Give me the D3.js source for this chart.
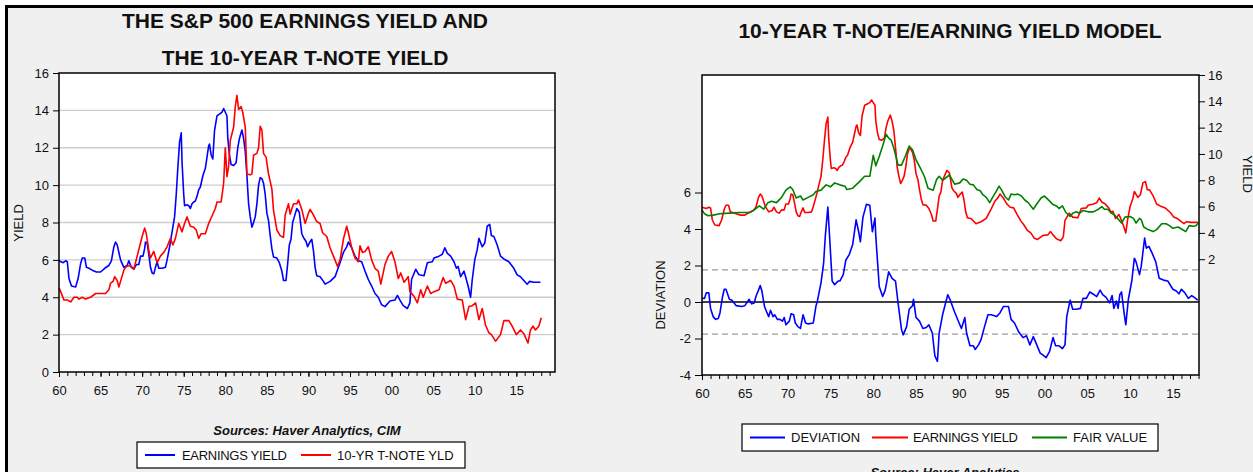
<!DOCTYPE html>
<html>
<head>
<meta charset="utf-8">
<script src="https://cdn.jsdelivr.net/npm/d3@7"></script>
<style>
  body { margin: 0; background: #fff; }
  svg { display: block; font-family: "Liberation Sans", Arial, sans-serif; }
</style>
</head>
<body>
<svg id="chart" width="1253" height="472"></svg>
<script>
'use strict'

////////////////////////////////////
//////////// data //////////////////
////////////////////////////////////

// S&P 500 earnings yield (blue on the left, red on the right)
const earningsYield = [[1960.0,5.95],[1960.5,5.85],[1960.8,5.95],[1961.0,5.9],[1961.2,5.0],[1961.5,4.6],[1962.0,4.55],[1962.3,5.0],[1962.6,5.8],[1962.8,6.1],[1963.1,6.1],[1963.3,5.6],[1963.6,5.55],[1964.0,5.45],[1964.5,5.35],[1965.0,5.35],[1965.5,5.55],[1966.0,5.7],[1966.3,5.95],[1966.6,6.7],[1966.8,6.95],[1967.0,6.8],[1967.4,6.0],[1967.8,5.6],[1968.2,5.7],[1968.4,5.95],[1968.7,5.6],[1969.0,5.5],[1969.3,5.75],[1969.6,5.75],[1969.8,6.2],[1970.1,6.2],[1970.3,6.6],[1970.4,6.95],[1970.6,6.9],[1970.8,6.3],[1971.0,5.6],[1971.2,5.3],[1971.4,5.25],[1971.6,5.6],[1971.8,5.9],[1972.0,5.55],[1972.4,5.55],[1972.8,5.6],[1973.0,6.0],[1973.3,6.7],[1973.6,7.5],[1973.9,8.3],[1974.1,9.5],[1974.3,11.0],[1974.5,12.3],[1974.7,12.8],[1974.8,11.2],[1975.0,9.5],[1975.1,8.9],[1975.4,8.95],[1975.6,8.9],[1975.8,8.75],[1976.0,9.0],[1976.2,9.1],[1976.4,9.15],[1976.6,9.4],[1976.8,9.75],[1977.0,9.9],[1977.3,10.5],[1977.6,10.9],[1977.8,11.5],[1978.0,12.1],[1978.1,12.2],[1978.3,11.6],[1978.5,11.4],[1978.7,12.9],[1979.0,13.7],[1979.3,13.8],[1979.6,13.9],[1979.8,14.1],[1980.0,13.9],[1980.2,13.7],[1980.3,12.5],[1980.5,11.6],[1980.7,11.1],[1981.0,11.05],[1981.3,11.2],[1981.5,12.0],[1981.7,12.5],[1981.9,12.8],[1982.0,12.95],[1982.2,12.5],[1982.4,11.8],[1982.6,10.5],[1982.8,9.0],[1983.0,8.3],[1983.2,7.75],[1983.4,8.0],[1983.6,8.3],[1983.8,9.0],[1984.0,10.0],[1984.2,10.4],[1984.4,10.35],[1984.6,10.1],[1984.8,9.5],[1985.0,8.5],[1985.2,8.1],[1985.4,7.3],[1985.6,6.6],[1985.8,6.15],[1986.2,6.1],[1986.5,5.85],[1986.8,5.4],[1987.0,4.9],[1987.3,4.9],[1987.5,5.8],[1987.7,6.8],[1987.9,7.1],[1988.1,8.0],[1988.3,8.3],[1988.6,8.75],[1988.9,8.55],[1989.2,7.4],[1989.4,7.2],[1989.7,7.0],[1989.9,6.7],[1990.1,6.9],[1990.4,7.1],[1990.6,6.5],[1990.8,5.6],[1991.0,5.15],[1991.4,5.1],[1991.8,4.85],[1992.0,4.7],[1992.6,4.85],[1993.2,5.1],[1993.8,5.85],[1994.2,6.4],[1994.6,6.7],[1994.8,6.95],[1995.2,6.65],[1995.6,6.2],[1996.0,5.95],[1996.4,5.9],[1996.8,5.4],[1997.2,4.95],[1997.6,4.6],[1998.0,4.2],[1998.4,4.0],[1998.8,3.6],[1999.2,3.5],[1999.8,3.8],[2000.4,3.85],[2000.7,4.1],[2001.0,3.85],[2001.4,3.55],[2001.9,3.4],[2002.2,3.7],[2002.4,4.95],[2002.9,5.5],[2003.3,5.2],[2003.9,5.15],[2004.3,5.85],[2004.9,5.9],[2005.1,6.1],[2005.7,6.2],[2006.1,6.3],[2006.4,6.65],[2006.7,6.35],[2007.1,6.2],[2007.5,5.9],[2007.8,5.55],[2008.0,5.65],[2008.3,5.1],[2008.7,5.4],[2008.9,5.1],[2009.2,4.6],[2009.5,4.0],[2009.7,4.95],[2010.0,6.0],[2010.3,6.55],[2010.5,7.15],[2010.9,6.7],[2011.2,6.9],[2011.5,7.8],[2011.8,7.9],[2012.0,7.3],[2012.3,7.25],[2012.7,6.8],[2013.1,6.2],[2013.5,6.05],[2014.1,5.9],[2014.7,5.55],[2015.1,5.2],[2015.5,5.1],[2015.9,4.9],[2016.3,4.7],[2016.6,4.85],[2017.1,4.8],[2017.9,4.8]]

// 10-year T-note yield
const tnoteYield = [[1960.0,4.5],[1960.2,4.3],[1960.6,3.85],[1961.0,3.85],[1961.4,3.75],[1961.8,4.0],[1962.2,4.0],[1962.4,3.9],[1962.8,4.0],[1963.2,3.9],[1963.8,4.0],[1964.4,4.2],[1965.0,4.2],[1965.6,4.2],[1966.0,4.4],[1966.2,4.75],[1966.5,4.85],[1966.7,5.1],[1967.0,4.9],[1967.2,4.55],[1967.4,4.85],[1967.8,5.45],[1968.1,5.65],[1968.6,5.7],[1969.0,5.5],[1969.4,6.2],[1969.8,6.9],[1970.0,7.25],[1970.3,7.7],[1970.5,7.4],[1970.8,6.5],[1971.0,6.1],[1971.4,6.45],[1971.8,5.85],[1972.2,6.2],[1972.6,6.4],[1973.0,6.7],[1973.4,7.15],[1973.7,6.8],[1974.0,7.15],[1974.4,7.95],[1974.8,7.5],[1975.1,7.95],[1975.4,8.3],[1975.8,7.8],[1976.2,7.75],[1976.5,7.6],[1976.8,7.15],[1977.1,7.4],[1977.6,7.4],[1978.0,7.95],[1978.4,8.35],[1978.8,8.75],[1979.0,9.1],[1979.5,9.1],[1979.8,10.1],[1980.0,12.0],[1980.2,10.45],[1980.4,11.0],[1980.6,12.4],[1981.0,13.1],[1981.2,14.2],[1981.4,14.8],[1981.6,14.05],[1981.9,14.2],[1982.1,13.9],[1982.4,13.1],[1982.6,10.6],[1983.0,10.55],[1983.2,10.6],[1983.4,11.6],[1983.8,11.7],[1984.0,12.0],[1984.2,13.15],[1984.4,12.95],[1984.6,11.7],[1984.9,11.5],[1985.2,10.6],[1985.6,9.8],[1985.8,8.65],[1986.2,7.6],[1986.6,7.3],[1987.0,7.2],[1987.2,8.4],[1987.6,9.0],[1987.8,8.45],[1988.2,9.0],[1988.6,9.0],[1988.8,9.2],[1989.2,8.7],[1989.6,7.95],[1990.0,8.5],[1990.2,8.7],[1990.6,8.4],[1991.0,8.05],[1991.4,7.95],[1991.7,7.45],[1992.2,7.25],[1992.6,6.65],[1993.0,6.2],[1993.5,5.65],[1993.8,6.0],[1994.2,7.1],[1994.6,7.8],[1994.8,7.45],[1995.2,6.65],[1995.6,6.1],[1996.0,5.9],[1996.2,6.75],[1996.5,6.4],[1996.8,6.45],[1997.2,6.7],[1997.6,6.0],[1998.0,5.55],[1998.4,5.4],[1998.7,4.7],[1999.2,5.75],[1999.6,6.2],[2000.0,6.45],[2000.4,5.9],[2000.8,5.0],[2001.1,5.3],[2001.5,4.8],[2002.0,5.1],[2002.2,4.3],[2002.7,4.05],[2003.1,3.7],[2003.5,4.4],[2003.8,4.0],[2004.3,4.6],[2004.7,4.2],[2005.1,4.3],[2005.7,4.4],[2006.2,5.05],[2006.5,4.75],[2007.1,4.9],[2007.5,4.6],[2007.9,3.9],[2008.5,3.85],[2008.9,2.8],[2009.3,3.5],[2009.7,3.55],[2010.1,3.7],[2010.5,2.8],[2010.9,3.4],[2011.3,2.5],[2011.7,2.1],[2012.0,2.0],[2012.5,1.65],[2013.1,2.0],[2013.5,2.75],[2014.1,2.75],[2014.5,2.45],[2015.0,2.0],[2015.5,2.25],[2015.9,2.05],[2016.4,1.55],[2016.7,2.25],[2017.0,2.45],[2017.3,2.25],[2017.7,2.45],[2018.0,2.9]]

// model fair value (right axis)
const fairValue = [[1960.0,5.75],[1960.3,5.45],[1960.7,5.3],[1961.3,5.35],[1962.1,5.45],[1963.2,5.5],[1964.4,5.55],[1965.6,5.55],[1966.1,5.75],[1966.7,6.05],[1967.2,5.8],[1967.7,6.3],[1968.1,6.4],[1968.7,6.3],[1969.3,6.7],[1969.8,7.25],[1970.3,7.5],[1970.6,7.3],[1971.0,6.65],[1971.5,6.8],[1971.8,6.5],[1972.4,6.7],[1973.0,6.9],[1973.3,7.15],[1973.9,7.25],[1974.5,7.65],[1975.0,7.5],[1975.5,7.8],[1976.1,7.65],[1976.7,7.55],[1976.9,7.3],[1977.6,7.4],[1978.4,7.9],[1979.0,8.3],[1979.6,8.3],[1980.0,9.9],[1980.3,9.1],[1980.7,9.8],[1981.1,10.6],[1981.5,11.5],[1981.8,11.2],[1982.1,11.05],[1982.4,10.45],[1982.9,9.15],[1983.3,9.15],[1983.7,9.75],[1984.2,10.6],[1984.6,10.3],[1985.0,9.55],[1985.6,8.8],[1986.0,8.25],[1986.4,7.4],[1987.0,7.25],[1987.4,8.05],[1987.7,8.3],[1988.1,8.0],[1988.9,8.4],[1989.5,7.7],[1990.1,7.8],[1990.5,8.1],[1990.9,8.0],[1991.3,7.7],[1991.7,7.65],[1992.1,7.3],[1992.5,7.2],[1992.8,6.9],[1993.2,6.7],[1993.6,6.3],[1994.0,6.75],[1994.4,7.2],[1994.7,7.55],[1995.0,7.25],[1995.4,6.75],[1995.8,6.5],[1996.1,6.95],[1996.5,6.9],[1996.9,6.95],[1997.3,6.8],[1997.7,6.5],[1998.1,6.3],[1998.7,5.8],[1999.1,6.2],[1999.6,6.65],[2000.0,6.8],[2000.4,6.55],[2001.0,6.15],[2001.4,6.05],[2001.7,5.85],[2002.1,6.05],[2002.5,5.55],[2003.0,5.25],[2003.3,5.5],[2003.7,5.6],[2004.1,5.5],[2004.5,5.7],[2005.1,5.6],[2005.7,5.6],[2006.3,5.8],[2006.7,6.0],[2007.0,5.8],[2007.4,5.8],[2007.8,5.5],[2008.2,5.35],[2008.6,5.05],[2009.0,4.75],[2009.4,5.2],[2010.0,5.25],[2010.4,5.1],[2010.7,4.75],[2011.1,5.1],[2011.3,5.0],[2011.6,4.45],[2012.1,4.25],[2012.7,4.1],[2013.1,4.25],[2013.7,4.7],[2014.2,4.7],[2014.6,4.55],[2015.0,4.35],[2015.6,4.45],[2016.0,4.3],[2016.5,4.1],[2016.9,4.55],[2017.4,4.5],[2017.7,4.55],[2018.0,4.8]]

// deviation from fair value (left axis)
const deviation = [[1960.0,0.2],[1960.3,0.2],[1960.5,0.5],[1960.8,0.5],[1961.0,-0.35],[1961.3,-0.8],[1961.6,-0.95],[1961.9,-0.9],[1962.1,-0.6],[1962.4,0.3],[1962.6,0.7],[1962.8,0.7],[1963.2,0.15],[1963.5,0.1],[1964.0,-0.2],[1964.6,-0.25],[1965.0,-0.2],[1965.3,0.0],[1965.5,0.15],[1965.8,-0.1],[1966.1,-0.05],[1966.3,0.3],[1966.6,0.65],[1966.8,0.9],[1967.0,0.6],[1967.3,-0.25],[1967.6,-0.6],[1967.8,-0.8],[1968.0,-0.45],[1968.3,-0.8],[1968.5,-0.7],[1968.8,-0.95],[1969.1,-0.95],[1969.4,-1.05],[1969.6,-0.85],[1969.8,-1.25],[1970.2,-1.05],[1970.4,-0.65],[1970.7,-0.7],[1970.9,-1.15],[1971.2,-1.35],[1971.5,-1.45],[1971.8,-0.7],[1972.1,-1.15],[1972.4,-1.2],[1973.0,-1.15],[1973.3,-0.25],[1973.5,0.1],[1973.9,1.05],[1974.2,2.1],[1974.4,3.6],[1974.7,5.2],[1974.9,3.6],[1975.2,1.15],[1975.5,0.95],[1975.9,1.15],[1976.1,1.15],[1976.5,1.5],[1976.8,2.3],[1977.2,2.6],[1977.6,3.15],[1978.0,4.5],[1978.3,3.85],[1978.5,3.3],[1978.8,4.65],[1979.2,5.35],[1979.6,5.3],[1979.9,3.85],[1980.2,4.6],[1980.3,3.6],[1980.7,0.85],[1981.1,0.3],[1981.4,0.65],[1981.8,1.65],[1982.2,1.3],[1982.6,1.15],[1982.9,-0.05],[1983.3,-1.5],[1983.5,-1.8],[1983.9,-1.35],[1984.2,-0.4],[1984.6,-0.2],[1984.7,0.15],[1985.0,-0.85],[1985.4,-1.05],[1985.8,-1.45],[1986.2,-1.4],[1986.5,-1.25],[1986.9,-1.7],[1987.2,-2.95],[1987.5,-3.25],[1987.7,-1.7],[1988.1,-0.7],[1988.4,-0.15],[1988.7,0.4],[1989.0,0.1],[1989.5,-0.55],[1989.9,-1.0],[1990.3,-1.45],[1990.7,-0.85],[1990.9,-1.7],[1991.3,-2.4],[1991.7,-2.4],[1991.9,-2.6],[1992.3,-2.35],[1992.6,-2.05],[1993.0,-1.35],[1993.4,-0.7],[1993.8,-0.7],[1994.4,-0.8],[1994.8,-0.6],[1995.2,-0.25],[1995.8,-0.25],[1996.1,-0.95],[1996.5,-1.15],[1997.0,-1.65],[1997.5,-1.95],[1997.9,-1.85],[1998.3,-2.35],[1998.7,-1.9],[1999.1,-2.35],[1999.5,-2.8],[1999.8,-2.9],[2000.2,-3.05],[2000.6,-2.7],[2001.0,-1.95],[2001.3,-2.4],[2001.7,-2.4],[2002.1,-2.55],[2002.4,-2.35],[2002.6,-0.8],[2003.0,0.1],[2003.3,-0.4],[2003.7,-0.4],[2004.2,-0.35],[2004.5,0.2],[2004.9,0.2],[2005.3,0.55],[2005.8,0.4],[2006.1,0.3],[2006.5,0.65],[2006.8,0.4],[2007.2,0.25],[2007.6,-0.05],[2007.9,0.35],[2008.1,-0.35],[2008.4,0.05],[2008.6,-0.35],[2008.8,0.4],[2009.0,0.55],[2009.3,-0.6],[2009.5,-1.25],[2009.8,0.15],[2010.2,1.15],[2010.5,2.4],[2010.7,2.2],[2011.1,1.5],[2011.3,1.95],[2011.7,3.5],[2011.9,2.95],[2012.2,3.05],[2012.6,2.65],[2013.0,2.2],[2013.4,1.3],[2013.9,1.2],[2014.4,1.15],[2015.0,0.7],[2015.4,0.6],[2015.7,0.45],[2016.0,0.7],[2016.4,0.5],[2016.8,0.2],[2017.2,0.35],[2017.5,0.25],[2017.9,0.1]]

// +/- one standard deviation bands on the deviation axis
const devBands = [1.76, -1.76]

// ticks
const xTickYears = [1960, 1965, 1970, 1975, 1980, 1985, 1990, 1995, 2000, 2005, 2010, 2015]
const xTickLabels = ['60', '65', '70', '75', '80', '85', '90', '95', '00', '05', '10', '15']
const yTicksLeft = [0, 2, 4, 6, 8, 10, 12, 14, 16]
const devTicks = [-4, -2, 0, 2, 4, 6]
const yieldTicks = [2, 4, 6, 8, 10, 12, 14, 16]

const BLUE = '#0000ff', RED = '#ff0000', GREEN = '#008000'

////////////////////////////////////
//////////// frame /////////////////
////////////////////////////////////

const svg = d3.select('#chart')

svg.append('rect').attr('x', 7).attr('y', 8).attr('width', 1246).attr('height', 464).attr('fill', '#f0f0f0')
svg.append('rect').attr('x', 5).attr('y', 5).attr('width', 1248).attr('height', 3).attr('fill', '#000')
svg.append('rect').attr('x', 5).attr('y', 5).attr('width', 3).attr('height', 467).attr('fill', '#000')

// plain hyphen for negatives, like the original
const plain = d => String(d)

function styleAxis(g) {
    g.select('.domain').remove()
    g.selectAll('line').attr('stroke', '#000')
    g.selectAll('text').attr('font-size', '13px').attr('fill', '#111')
        .attr('font-family', '"Liberation Sans", Arial, sans-serif')
}

function xAxes(x, top, bottom, lastYear) {
    // yearly minor ticks
    svg.append('g')
        .attr('transform', `translate(0,${bottom})`)
        .call(d3.axisBottom(x).tickValues(d3.range(1960, lastYear + 1)).tickSize(4).tickFormat(''))
        .call(styleAxis)
    svg.append('g')
        .attr('transform', `translate(0,${bottom})`)
        .call(d3.axisBottom(x).tickValues(xTickYears).tickSize(5).tickPadding(9)
            .tickFormat((d, i) => xTickLabels[i]))
        .call(styleAxis)
}

const lineGen = (x, y) => d3.line().x(d => x(d[0])).y(d => y(d[1]))

function drawLine(data, x, y, color) {
    svg.append('path')
        .datum(data)
        .attr('fill', 'none')
        .attr('stroke', color)
        .attr('stroke-width', 1.6)
        .attr('stroke-linejoin', 'round')
        .attr('d', lineGen(x, y))
}

function legend(box, items) {
    svg.append('rect')
        .attr('x', box.x).attr('y', box.y).attr('width', box.w).attr('height', box.h)
        .attr('fill', '#fff').attr('stroke', '#000').attr('stroke-width', 1.2)
    const cy = box.y + box.h / 2
    items.forEach(it => {
        svg.append('line')
            .attr('x1', it.x1).attr('x2', it.x2).attr('y1', cy).attr('y2', cy)
            .attr('stroke', it.color).attr('stroke-width', 2)
        svg.append('text')
            .attr('x', it.tx).attr('y', cy + 4.6)
            .attr('font-size', '13px').attr('fill', '#111')
            .attr('letter-spacing', it.ls || 0)
            .text(it.label)
    })
}

////////////////////////////////////
//////////// left chart ////////////
////////////////////////////////////

const L = { left: 59, right: 555, top: 73, bottom: 372 }

const xL = d3.scaleLinear().domain([1960, 2019.65]).range([L.left, L.right])
const yL = d3.scaleLinear().domain([0, 16]).range([L.bottom, L.top])

svg.append('rect')
    .attr('x', L.left).attr('y', L.top)
    .attr('width', L.right - L.left).attr('height', L.bottom - L.top)
    .attr('fill', '#fff')

svg.append('g')
    .selectAll('line')
    .data(yTicksLeft.filter(v => v > 0 && v < 16))
    .join('line')
    .attr('x1', L.left).attr('x2', L.right)
    .attr('y1', d => yL(d)).attr('y2', d => yL(d))
    .attr('stroke', '#cdcdcd').attr('stroke-width', 1.3)

drawLine(earningsYield, xL, yL, BLUE)
drawLine(tnoteYield, xL, yL, RED)

svg.append('rect')
    .attr('x', L.left).attr('y', L.top)
    .attr('width', L.right - L.left).attr('height', L.bottom - L.top)
    .attr('fill', 'none').attr('stroke', '#000').attr('stroke-width', 1.5)

svg.append('g')
    .attr('transform', `translate(${L.left},0)`)
    .call(d3.axisLeft(yL).tickValues(yTicksLeft).tickSize(6).tickPadding(4).tickFormat(plain))
    .call(styleAxis)

xAxes(xL, L.top, L.bottom, 2019)

svg.append('text')
    .attr('transform', 'translate(23,223) rotate(-90)')
    .attr('text-anchor', 'middle').attr('font-size', '13px').attr('fill', '#111')
    .text('YIELD')

svg.append('text')
    .attr('x', 305).attr('y', 28)
    .attr('text-anchor', 'middle').attr('font-size', '21px').attr('font-weight', 'bold').attr('fill', '#111')
    .text('THE S&P 500 EARNINGS YIELD AND')
svg.append('text')
    .attr('x', 305).attr('y', 65)
    .attr('text-anchor', 'middle').attr('font-size', '21px').attr('font-weight', 'bold').attr('fill', '#111')
    .text('THE 10-YEAR T-NOTE YIELD')

svg.append('text')
    .attr('x', 307).attr('y', 435)
    .attr('text-anchor', 'middle').attr('font-size', '13px')
    .attr('font-weight', 'bold').attr('font-style', 'italic').attr('fill', '#111')
    .text('Sources:  Haver Analytics, CIM')

legend({ x: 137, y: 442, w: 328, h: 26 }, [
    { x1: 145, x2: 175, tx: 182, color: BLUE, label: 'EARNINGS YIELD', ls: -0.3 },
    { x1: 301, x2: 331, tx: 337, color: RED, label: '10-YR T-NOTE YLD' }
])

////////////////////////////////////
//////////// right chart ///////////
////////////////////////////////////

const R = { left: 702, right: 1199, top: 75, bottom: 375 }

const xR = d3.scaleLinear().domain([1960, 2018.05]).range([R.left, R.right])
const yDev = d3.scaleLinear().domain([-4, 12.44]).range([R.bottom, R.top])
const yYld = d3.scaleLinear().domain([-6.8, 16]).range([R.bottom, R.top])

svg.append('rect')
    .attr('x', R.left).attr('y', R.top)
    .attr('width', R.right - R.left).attr('height', R.bottom - R.top)
    .attr('fill', '#fff')

svg.append('g')
    .selectAll('line')
    .data(devBands)
    .join('line')
    .attr('x1', R.left).attr('x2', R.right)
    .attr('y1', d => yDev(d)).attr('y2', d => yDev(d))
    .attr('stroke', '#9a9a9a').attr('stroke-width', 1.1).attr('stroke-dasharray', '6,4')

svg.append('line')
    .attr('x1', R.left).attr('x2', R.right)
    .attr('y1', yDev(0)).attr('y2', yDev(0))
    .attr('stroke', '#000').attr('stroke-width', 1.3)

drawLine(earningsYield, xR, yYld, RED)
drawLine(fairValue, xR, yYld, GREEN)
drawLine(deviation, xR, yDev, BLUE)

svg.append('rect')
    .attr('x', R.left).attr('y', R.top)
    .attr('width', R.right - R.left).attr('height', R.bottom - R.top)
    .attr('fill', 'none').attr('stroke', '#000').attr('stroke-width', 1.5)

svg.append('g')
    .attr('transform', `translate(${R.left},0)`)
    .call(d3.axisLeft(yDev).tickValues(devTicks).tickSize(7).tickPadding(4).tickFormat(plain))
    .call(styleAxis)

svg.append('g')
    .attr('transform', `translate(${R.right},0)`)
    .call(d3.axisRight(yYld).tickValues(yieldTicks).tickSize(6).tickPadding(3).tickFormat(plain))
    .call(styleAxis)

xAxes(xR, R.top, R.bottom, 2018)

svg.append('text')
    .attr('transform', 'translate(665,295) rotate(-90)')
    .attr('text-anchor', 'middle').attr('font-size', '13px').attr('fill', '#111')
    .text('DEVIATION')

svg.append('text')
    .attr('transform', 'translate(1243,174) rotate(90)')
    .attr('text-anchor', 'middle').attr('font-size', '13px').attr('fill', '#111')
    .text('YIELD')

svg.append('text')
    .attr('x', 950).attr('y', 38)
    .attr('text-anchor', 'middle').attr('font-size', '21px').attr('font-weight', 'bold').attr('fill', '#111')
    .text('10-YEAR T-NOTE/EARNING YIELD MODEL')

legend({ x: 742, y: 424, w: 416, h: 27 }, [
    { x1: 750, x2: 785, tx: 791, color: BLUE, label: 'DEVIATION' },
    { x1: 872, x2: 908, tx: 913, color: RED, label: 'EARNINGS YIELD', ls: -0.3 },
    { x1: 1032, x2: 1067, tx: 1073, color: GREEN, label: 'FAIR VALUE' }
])

svg.append('text')
    .attr('x', 945).attr('y', 477)
    .attr('text-anchor', 'middle').attr('font-size', '13px')
    .attr('font-weight', 'bold').attr('font-style', 'italic').attr('fill', '#111')
    .text('Source:  Haver Analytics')
</script>
</body>
</html>
